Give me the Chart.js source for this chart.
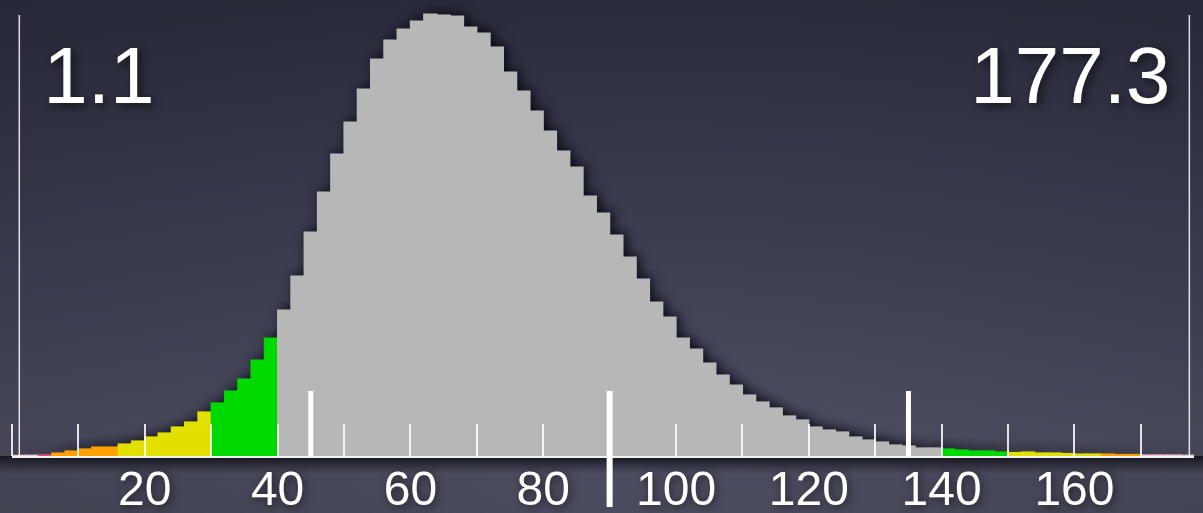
<!DOCTYPE html>
<html>
<head>
<meta charset="utf-8">
<script src="https://cdn.jsdelivr.net/npm/chart.js@4.4.0/dist/chart.umd.min.js"></script>
<style>
  html, body { margin: 0; padding: 0; background: #2b2c3e; overflow: hidden; }
  #c { display: block; }
</style>
</head>
<body>
<canvas id="c" width="1203" height="513"></canvas>
<script>
// Histogram bins: first edge and width, one count per bin
const binStart = 0;
const binWidth = 2;
const counts = [
  0.7, 0.8, 1.2, 3, 5, 7, 9, 9, 12, 15,
  19, 23, 29, 34, 44, 53, 65, 77, 96, 118,
  146, 180, 224, 264, 302, 334, 367, 397, 416, 427,
  435, 442, 441, 440, 429, 423, 409, 384, 365, 345,
  325, 305, 289, 260, 243, 221, 199, 177, 154, 139,
  118, 107, 93, 81, 71, 61, 54, 48, 40, 36,
  29, 26, 24, 19, 16, 14, 11, 10, 8, 8,
  7, 6, 5, 5, 4, 3.5, 4, 3, 3, 2.5,
  2, 2, 2, 1.5, 1.5, 1, 1, 1, 0.8
];

// Smallest and largest observed values
const extremes = [1.1, 177.3];
// Reference markers (centre and the two outer bounds)
const markers = [45, 90, 135];
// Labelled axis values and the short tick marks
const labeledTicks = [20, 40, 60, 80, 100, 120, 140, 160];
const minorTicks = [0, 10, 20, 30, 40, 50, 60, 70, 80, 90, 100, 110, 120, 130, 140, 150, 160, 170];

// Colour zones along the value axis
const zoneLimits = [4, 6, 16, 30, 40, 140, 150, 164, 170];
const zoneColors = ['#f3c5d3', '#e0506e', '#ff9f00', '#e3e000', '#00d900',
                    '#b7b7b7', '#00d900', '#e3e000', '#ff9f00', '#f3c5d3'];

function zoneColor(v) {
  let i = 0;
  while (i < zoneLimits.length && v >= zoneLimits[i]) i++;
  return zoneColors[i];
}

const FONT = '"Liberation Sans", Arial, Helvetica, sans-serif';

const decor = {
  id: 'decor',
  beforeDraw(chart) {
    const { ctx, width, height } = chart;
    ctx.save();
    const g = ctx.createLinearGradient(0, 0, 0, height);
    g.addColorStop(0, '#2a2b3d');
    g.addColorStop(0.45, '#3b3c51');
    g.addColorStop(0.85, '#4b4c60');
    g.addColorStop(1, '#47485a');
    ctx.fillStyle = g;
    ctx.fillRect(0, 0, width, height);
    const r = ctx.createRadialGradient(width * 0.55, height * 1.1, 50, width * 0.55, height * 0.8, width * 0.75);
    r.addColorStop(0, 'rgba(90,90,110,0.18)');
    r.addColorStop(1, 'rgba(0,0,0,0.12)');
    ctx.fillStyle = r;
    ctx.fillRect(0, 0, width, height);
    // soft shadow just under the axis line
    const top = chart.chartArea.bottom;
    const s = ctx.createLinearGradient(0, top, 0, top + 18);
    s.addColorStop(0, 'rgba(10,10,18,0.75)');
    s.addColorStop(1, 'rgba(10,10,18,0)');
    ctx.fillStyle = s;
    ctx.fillRect(0, top, width, 18);
    ctx.restore();
    // tick labels pick up a soft dark shadow
    ctx.shadowColor = 'rgba(0,0,0,0.55)';
    ctx.shadowBlur = 8;
    ctx.shadowOffsetX = 2;
    ctx.shadowOffsetY = 2;
  },
  beforeDatasetsDraw(chart) {
    const { ctx } = chart;
    ctx.shadowColor = 'rgba(0,0,0,0)';
    ctx.shadowBlur = 0;
    ctx.shadowOffsetX = 0;
    ctx.shadowOffsetY = 0;
    // one shadow for the whole outline of the histogram
    const meta = chart.getDatasetMeta(0);
    const shift = 5000;
    ctx.save();
    ctx.beginPath();
    meta.data.forEach(el => {
      const w = el.width;
      ctx.rect(el.x - w / 2 - shift, el.y, w + 0.5, el.base - el.y);
    });
    ctx.shadowColor = 'rgba(5,5,15,0.9)';
    ctx.shadowBlur = 12;
    ctx.shadowOffsetX = shift + 3;
    ctx.shadowOffsetY = -2;
    ctx.fillStyle = '#000';
    ctx.fill();
    ctx.restore();
  },
  afterDatasetsDraw(chart) {
    const { ctx, chartArea } = chart;
    const xs = chart.scales.x;
    const base = chartArea.bottom;
    ctx.save();
    // axis line
    ctx.fillStyle = '#f2f2f2';
    ctx.fillRect(chartArea.left, base, chartArea.right - chartArea.left, 2);
    // short ticks
    ctx.fillStyle = 'rgba(255,255,255,0.85)';
    minorTicks.forEach(v => {
      const px = Math.round(xs.getPixelForValue(v));
      ctx.fillRect(px - 1, base - 32, 2, 32);
    });
    // markers
    ctx.fillStyle = '#ffffff';
    markers.forEach((v, i) => {
      const px = xs.getPixelForValue(v);
      const centre = i === 1;
      const w = centre ? 6 : 5;
      const bottom = centre ? base + 51 : base;
      ctx.fillRect(px - w / 2, base - 65, w, bottom - (base - 65));
    });
    // min / max lines
    ctx.fillStyle = 'rgba(255,255,255,0.85)';
    extremes.forEach(v => {
      const px = xs.getPixelForValue(v);
      ctx.fillRect(px - 0.75, chartArea.top + 15, 1.5, base - chartArea.top - 15);
    });
    // min / max values
    ctx.font = '80px ' + FONT;
    ctx.fillStyle = '#ffffff';
    ctx.textBaseline = 'alphabetic';
    ctx.shadowColor = 'rgba(0,0,0,0.6)';
    ctx.shadowBlur = 10;
    ctx.shadowOffsetX = 3;
    ctx.shadowOffsetY = 3;
    ctx.textAlign = 'left';
    ctx.fillText(String(extremes[0]), xs.getPixelForValue(extremes[0]) + 24, chartArea.top + 103);
    ctx.textAlign = 'right';
    ctx.fillText(String(extremes[1]), xs.getPixelForValue(extremes[1]) - 19, chartArea.top + 103);
    ctx.restore();
  }
};

new Chart(document.getElementById('c'), {
  type: 'bar',
  data: {
    datasets: [{
      data: counts.map((v, i) => ({ x: binStart + binWidth * (i + 0.5), y: v })),
      backgroundColor: c => zoneColor(c.raw ? c.raw.x : 0),
      borderWidth: 0,
      inflateAmount: 0.6,
      barPercentage: 1,
      categoryPercentage: 1
    }]
  },
  options: {
    responsive: false,
    animation: false,
    devicePixelRatio: 1,
    layout: { padding: { left: 12, right: 9, top: 0, bottom: 0 } },
    plugins: { legend: { display: false }, tooltip: { enabled: false } },
    scales: {
      x: {
        type: 'linear',
        min: 0,
        max: 178,
        offset: false,
        grid: { display: false, drawTicks: false },
        border: { display: false },
        afterBuildTicks: s => { s.ticks = labeledTicks.map(v => ({ value: v })); },
        afterFit: s => { s.height = 57; },
        ticks: {
          color: '#ffffff',
          font: { family: FONT, size: 48, lineHeight: 1.045 },
          padding: 11,
          maxRotation: 0,
          autoSkip: false
        }
      },
      y: { display: false, min: 0, max: 456 }
    }
  },
  plugins: [decor]
});
</script>
</body>
</html>
